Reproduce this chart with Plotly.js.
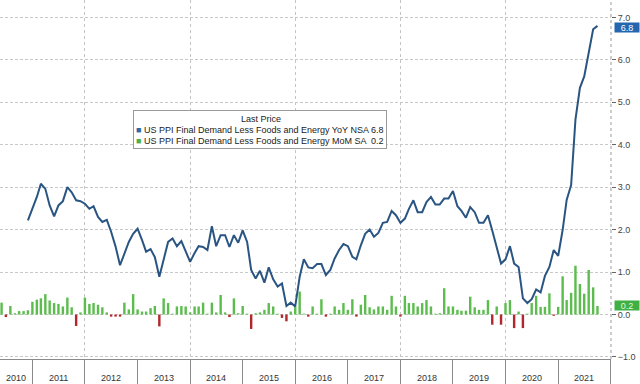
<!DOCTYPE html>
<html><head><meta charset="utf-8">
<script src="https://cdn.plot.ly/plotly-3.0.1.min.js"></script>
<style>html,body{margin:0;padding:0;background:#fff;overflow:hidden}#chart{width:640px;height:384px}</style>
</head><body><div id="chart"></div>
<script>
// ---- data ----
const yearLabels = ['2010','2011','2012','2013','2014','2015','2016','2017','2018','2019','2020','2021'];
const yoyName = 'US PPI Final Demand Less Foods and Energy YoY NSA';
const momName = 'US PPI Final Demand Less Foods and Energy MoM SA';
const yoyStart = [2010, 12];   // first month of YoY series
const momStart = [2010, 6];    // first month of MoM series
const yoyValues = [
  2.22,
  2.50, 2.77, 3.08, 2.96, 2.57, 2.31, 2.57, 2.67, 3.00, 2.88, 2.69, 2.67,
  2.61, 2.49, 2.55, 2.30, 2.18, 2.23, 1.95, 1.60, 1.16, 1.44, 1.71, 1.90,
  2.02, 1.75, 1.48, 1.54, 1.35, 0.89, 1.28, 1.71, 1.79, 1.61, 1.73, 1.48,
  1.24, 1.45, 1.61, 1.59, 1.52, 2.08, 1.61, 1.87, 1.87, 1.59, 1.87, 1.69,
  1.98, 1.71, 1.05, 0.85, 1.03, 0.75, 1.11, 0.83, 0.66, 0.73, 0.20, 0.28,
  0.19, 0.89, 1.30, 1.11, 1.09, 1.19, 1.19, 0.93, 1.05, 1.32, 1.52, 1.66,
  1.61, 1.36, 1.30, 1.63, 1.90, 2.00, 1.83, 1.92, 2.16, 2.18, 2.44, 2.34,
  2.16, 2.26, 2.49, 2.69, 2.41, 2.41, 2.65, 2.77, 2.59, 2.59, 2.73, 2.73,
  2.91, 2.55, 2.44, 2.28, 2.53, 2.41, 2.16, 2.16, 2.34, 1.98, 1.59, 1.20,
  1.30, 1.61, 1.20, 1.12, 0.38, 0.27, 0.36, 0.59, 0.52, 0.91, 1.12, 1.52,
  1.38, 1.99, 2.70, 3.05, 4.59, 5.34, 5.61, 6.13, 6.72, 6.80
];
const momValues = [
  0.28, -0.06, 0.20, 0.03, 0.08, 0.08, 0.10,
  0.30, 0.35, 0.38, 0.48, 0.33, 0.27, 0.25, 0.19, 0.40, 0.17, -0.27, 0.05,
  0.40, 0.25, 0.27, 0.23, 0.17, 0.05, -0.05, -0.05, -0.05, 0.28, 0.12, 0.48,
  0.12, 0.07, 0.07, 0.15, 0.20, -0.28, 0.38, 0.27, 0.02, 0.19, 0.20, 0.19,
  0.05, 0.19, 0.19, 0.28, 0.02, 0.28, 0.05, 0.46, 0.05, -0.06, 0.38, 0.03,
  0.20, 0.02, -0.34, 0.03, 0.05, 0.11, 0.27, 0.19, 0.02, -0.08, -0.16, 0.07,
  0.19, 0.54, 0.02, -0.05, 0.19, 0.02, 0.36, -0.05, 0.02, 0.19, 0.11, 0.27,
  0.11, 0.36, -0.05, 0.23, 0.46, 0.17, 0.12, 0.19, 0.19, 0.11, 0.44, 0.19,
  -0.05, 0.44, 0.27, 0.27, 0.19, 0.27, 0.34, 0.19, 0.02, 0.03, 0.62, 0.19,
  0.19, 0.11, 0.09, 0.09, 0.42, 0.17, 0.11, 0.11, 0.34, -0.24, 0.19, -0.24,
  0.27, 0.34, -0.32, 0.07, -0.32, 0.02, 0.27, 0.44, 0.18, 0.18, 0.50, -0.03,
  0.18, 0.90, 0.34, 0.51, 1.15, 0.72, 0.49, 1.05, 0.64, 0.20
];
const gridYears = [2012, 2014, 2016, 2018, 2020];

// ---- helpers ----
function monthDates(start, n) {
  const out = [];
  let y = start[0], m = start[1];
  for (let i = 0; i < n; i++) {
    out.push(y + '-' + String(m).padStart(2, '0') + '-01');
    m++; if (m > 12) { m = 1; y++; }
  }
  return out;
}
const yoyDates = monthDates(yoyStart, yoyValues.length);
const momDates = monthDates(momStart, momValues.length);

const xRange = ['2010-05-21', '2022-01-03'];
const r0 = Date.parse(xRange[0]), r1 = Date.parse(xRange[1]);

const BLUE_LINE = '#2a5582', BLUE = '#2466b0', GREEN = '#5cbd4e', RED = '#b0282c';
const FONT = 'Liberation Sans, Arial, sans-serif';

const sepVals = yearLabels.map(y => (+y + 1) + '-01-01');

const yearAnn = yearLabels.map(y => {
  const a = Math.max(Date.UTC(+y, 0, 1), r0);
  const b = Math.min(Date.UTC(+y + 1, 0, 1), r1);
  return {
    x: (a + b) / 2, xref: 'x', y: -0.053, yref: 'paper',
    text: y, showarrow: false, xanchor: 'center', yanchor: 'middle',
    font: {family: FONT, size: 9, color: '#333'}
  };
});

const lastYoy = yoyValues[yoyValues.length - 1];
const lastMom = momValues[momValues.length - 1];

const legendText = '\u00a0<br>' +
  '<span style="color:#2f6aa8">\u25A0</span> ' + yoyName + ' ' + lastYoy.toFixed(1) + '<br>' +
  '<span style="color:#4caf48">\u25A0</span> ' + momName + ' \u00a0' + lastMom.toFixed(1);

const annotations = yearAnn.concat([
  {
    xref: 'paper', yref: 'paper', x: 133 / 611, y: 1 - 110 / 359,
    xanchor: 'left', yanchor: 'top', align: 'left', showarrow: false,
    text: legendText, bgcolor: '#ffffff', bordercolor: '#9a9a9a', borderwidth: 1, borderpad: 2,
    font: {family: FONT, size: 9, color: '#222'}
  },
  {
    xref: 'paper', yref: 'paper', x: 261 / 611, y: 1 - 119 / 359,
    xanchor: 'center', yanchor: 'middle', showarrow: false, text: 'Last Price',
    font: {family: FONT, size: 9, color: '#222'}
  },
  {
    xref: 'paper', yref: 'y', x: 1, xshift: 3, yshift: -2, y: lastYoy, xanchor: 'left', yanchor: 'middle',
    showarrow: false, text: lastYoy.toFixed(1), bgcolor: BLUE, borderpad: 0, width: 24, height: 9,
    font: {family: FONT, size: 9, color: '#ffffff'}
  },
  {
    xref: 'paper', yref: 'y', x: 1, xshift: 3, yshift: 1, y: lastMom, xanchor: 'left', yanchor: 'middle',
    showarrow: false, text: lastMom.toFixed(1), bgcolor: '#3fb043', borderpad: 0, width: 24, height: 9,
    font: {family: FONT, size: 9, color: '#e4f8dc'}
  }
]);

const traces = [
  {
    type: 'bar', x: momDates, y: momValues, name: momName,
    marker: {color: momValues.map(v => v >= 0 ? GREEN : RED), line: {width: 0}},
    hoverinfo: 'x+y'
  },
  {
    type: 'scatter', mode: 'lines', x: yoyDates, y: yoyValues, name: yoyName,
    line: {color: BLUE_LINE, width: 2}
  }
];

const layout = {
  width: 640, height: 384,
  margin: {l: 0, r: 29, t: 0, b: 25, pad: 0},
  paper_bgcolor: '#ffffff', plot_bgcolor: '#ffffff',
  showlegend: false, bargap: 0.4,
  font: {family: FONT, size: 9, color: '#333'},
  xaxis: {
    type: 'date', range: xRange,
    tickmode: 'array', tickvals: sepVals, ticks: 'outside', ticklen: 25,
    tickcolor: '#8a8a8a', tickwidth: 1, showticklabels: false,
    showgrid: false, showline: true, linecolor: '#8a8a8a', linewidth: 1,
    zeroline: false,
    minor: {
      tickmode: 'array', tickvals: gridYears.map(y => y + '-01-01'),
      showgrid: true, gridcolor: '#c4c4c4', griddash: 'dot', gridwidth: 1, ticks: ''
    }
  },
  yaxis: {
    side: 'right', range: [-1.048, 7.409], tickmode: 'linear', tick0: 0, dtick: 1,
    tickformat: '.1f', ticks: 'outside', ticklen: 4, tickcolor: '#666',
    tickfont: {family: FONT, size: 9, color: '#444'},
    showgrid: true, gridcolor: '#c8c8c8', griddash: '3px,2px', gridwidth: 1,
    zeroline: false, showline: false
  },
  shapes: [
    {type: 'line', xref: 'paper', yref: 'paper', x0: 1, x1: 1, y0: 0, y1: 1,
     line: {color: '#9a9a9a', width: 1, dash: 'dot'}}
  ],
  annotations: annotations
};

Plotly.newPlot('chart', traces, layout, {staticPlot: true, displayModeBar: false});
</script>
</body></html>
